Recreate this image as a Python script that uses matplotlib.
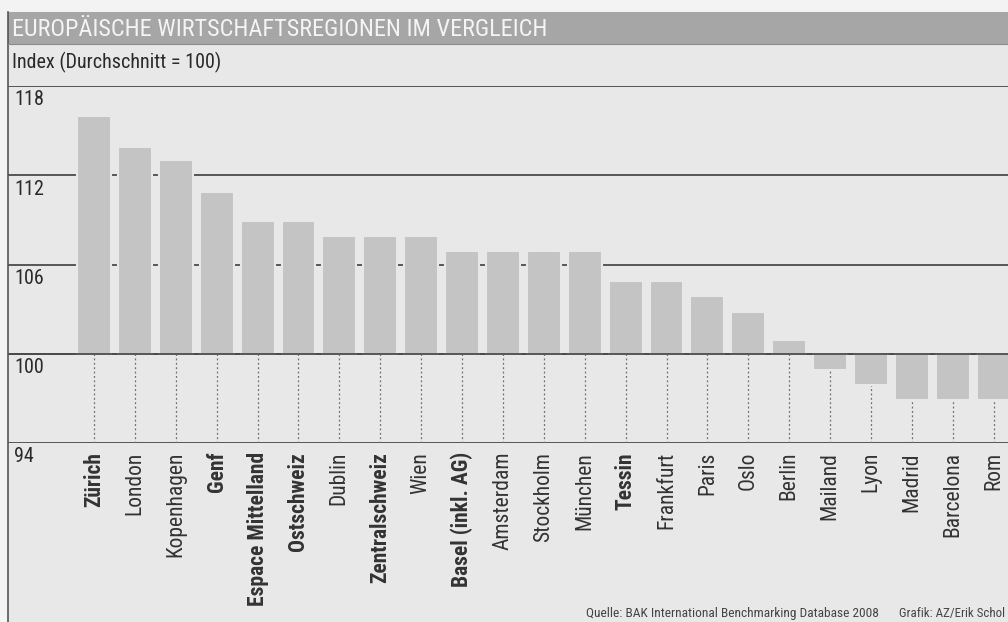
import matplotlib.pyplot as plt
from matplotlib.patches import Rectangle
from matplotlib.lines import Line2D

plt.rcParams['font.family'] = ['Roboto Condensed', 'Archivo Narrow', 'IBM Plex Sans Condensed',
                               'DejaVu Sans']

# regions, index values (average = 100), swiss regions are set in bold
regions = ['Zürich', 'London', 'Kopenhagen', 'Genf', 'Espace Mittelland', 'Ostschweiz',
           'Dublin', 'Zentralschweiz', 'Wien', 'Basel (inkl. AG)', 'Amsterdam', 'Stockholm',
           'München', 'Tessin', 'Frankfurt', 'Paris', 'Oslo', 'Berlin', 'Mailand', 'Lyon',
           'Madrid', 'Barcelona', 'Rom']
values = [116, 113.9, 113, 110.9, 108.9, 108.9, 107.9, 107.9, 107.9, 106.9, 106.9, 106.9,
          106.9, 104.9, 104.9, 103.9, 102.8, 100.9, 98.9, 97.9, 96.9, 96.9, 96.9]
swiss = ['Zürich', 'Genf', 'Espace Mittelland', 'Ostschweiz', 'Zentralschweiz',
         'Basel (inkl. AG)', 'Tessin']
yticks = [118, 112, 106, 100, 94]

W, H = 1008, 622
base = 100

fig = plt.figure(figsize=(W / 100, H / 100), dpi=100, facecolor='#f3f3f3')

def fx(px):
    return px / W

def fy(py):
    return 1 - py / H

# paper background, title band and left frame line
fig.patches.append(Rectangle((fx(8), 0), 1, fy(12), transform=fig.transFigure,
                             facecolor='#e8e8e8', edgecolor='none', zorder=-2))
fig.patches.append(Rectangle((fx(8), fy(44)), 1, fy(12) - fy(44), transform=fig.transFigure,
                             facecolor='#a6a6a6', edgecolor='none', zorder=-1))
fig.lines.append(Line2D([fx(8), fx(8)], [0, fy(12)], transform=fig.transFigure,
                        color='#555555', lw=1.2))
fig.lines.append(Line2D([fx(8), 1], [fy(44), fy(44)], transform=fig.transFigure,
                        color='#8a8a8a', lw=0.8))

fig.text(fx(12), fy(30), 'EUROPÄISCHE WIRTSCHAFTSREGIONEN IM VERGLEICH',
         color='#f4f4f4', fontsize=17.5, va='center', ha='left')
fig.text(fx(12), fy(62), 'Index (Durchschnitt = 100)', color='#2a2a2a',
         fontsize=14.5, va='center', ha='left')

ax = fig.add_axes([fx(8), fy(443), fx(1000), fy(86) - fy(443)])
ax.set_facecolor('none')
ax.set_xlim(-2.103, 22.35)
ax.set_ylim(94, 118)
for s in ax.spines.values():
    s.set_visible(False)
ax.set_xticks([])
ax.set_yticks([])

for y in yticks:
    ax.axhline(y, color='#4a4a4a', lw=1.3, zorder=1)
    ax.text(0.006, y - 0.3, str(y), transform=ax.get_yaxis_transform(),
            ha='left', va='top', fontsize=14.5, color='#2a2a2a')

x = list(range(len(regions)))
heights = [v - base for v in values]
ax.bar(x, heights, bottom=base, width=0.83, color='#c4c4c4', edgecolor='#e8e8e8',
       linewidth=1.5, zorder=2)
ax.axhline(base, color='#4a4a4a', lw=1.3, zorder=3)

# dotted leaders from bar end down to the 94 line
for xi, v in zip(x, values):
    top = min(v, base)
    ax.plot([xi, xi], [94, top], color='#6e6e6e', lw=0.9, ls=(0, (1.5, 2)), zorder=1.5)

for xi, name in zip(x, regions):
    ax.annotate(name, xy=(xi, 94), xytext=(0, -9), textcoords='offset pixels',
                rotation=90, ha='center', va='top', fontsize=15.5, color='#333333',
                fontweight='bold' if name in swiss else 'normal',
                annotation_clip=False)

fig.text(fx(586), fy(613), 'Quelle: BAK International Benchmarking Database 2008',
         fontsize=9.6, color='#444444', va='center', ha='left')
fig.text(fx(899), fy(613), 'Grafik: AZ/Erik Schol', fontsize=9.3, color='#444444',
         va='center', ha='left')

fig.savefig('out.png', dpi=100, facecolor=fig.get_facecolor())
